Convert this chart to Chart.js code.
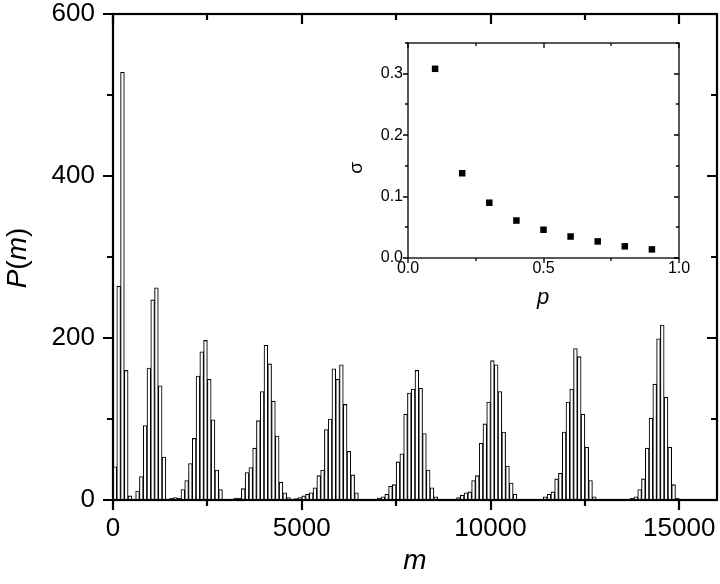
<!DOCTYPE html>
<html>
<head>
<meta charset="utf-8">
<script src="https://cdn.jsdelivr.net/npm/chart.js@4.4.1/dist/chart.umd.min.js"></script>
<style>
  html, body { margin: 0; padding: 0; background: #fff; }
  #wrap { position: relative; width: 720px; height: 584px; }
  #main { position: absolute; left: 0; top: 0; }
  #inset { position: absolute; left: 340px; top: 30px; }
</style>
</head>
<body>
<div id="wrap">
  <canvas id="main" width="720" height="584"></canvas>
  <canvas id="inset" width="360" height="290"></canvas>
</div>
<script>
// histogram: each peak is a run of 100-wide bins starting at peakStarts[i]
const binWidth = 100;
const peakStarts = [0, 600, 1500, 3200, 4800, 7000, 9100, 11400, 13700];
const peak1 = [41, 264, 528, 160, 5];
const peak2 = [11, 29, 92, 163, 247, 262, 141, 53];
const peak3 = [2, 3, 2, 13, 24, 45, 76, 153, 183, 197, 149, 99, 37, 13];
const peak4 = [2.5, 2.5, 14, 34, 40, 64, 98, 134, 191, 168, 122, 79, 22, 9, 3];
const peak5 = [1.6, 3, 5, 7, 9, 15, 30, 37, 87, 100, 162, 149, 167, 118, 60, 31, 9];
const peak6 = [2.5, 4, 7, 17, 19, 47, 57, 106, 132, 137, 160, 138, 82, 37, 15, 4];
const peak7 = [3, 6, 9, 10, 24, 30, 70, 94, 121, 172, 167, 134, 84, 42, 21, 7];
const peak8 = [4, 7, 10, 26, 33, 84, 121, 137, 187, 177, 106, 65, 24, 4];
const peak9 = [2, 4, 13, 26, 64, 101, 143, 199, 216, 127, 65, 19, 2.5];

const xTicks = [0, 5000, 10000, 15000];
const yTicks = [0, 200, 400, 600];

// inset
const pValues = [0.1, 0.2, 0.3, 0.4, 0.5, 0.6, 0.7, 0.8, 0.9];
const sigmaValues = [0.308, 0.138, 0.090, 0.061, 0.046, 0.035, 0.027, 0.019, 0.014];
const pTicks = [0, 0.5, 1.0];
const sigmaTicks = [0, 0.1, 0.2, 0.3];

const FONT = "'Liberation Sans', Arial, sans-serif";

const peaks = [peak1, peak2, peak3, peak4, peak5, peak6, peak7, peak8, peak9];
const histPoints = [];
peaks.forEach((counts, i) => {
  counts.forEach((c, k) => {
    histPoints.push({ x: peakStarts[i] + k * binWidth + binWidth / 2, y: c });
  });
});

// keep chart area where afterFit puts it (no extra room for edge labels)
function fixSize(prop, size) {
  return s => {
    s[prop] = size;
    s.paddingTop = 0; s.paddingBottom = 0; s.paddingLeft = 0; s.paddingRight = 0;
  };
}

// frame + minor/major ticks (out on left/bottom, in on top/right)
function framePlugin(id, opt) {
  return {
    id: id,
    afterDraw(chart) {
      const { ctx, chartArea: a, scales: { x, y } } = chart;
      ctx.save();
      ctx.strokeStyle = '#000';
      ctx.lineWidth = opt.lw;
      ctx.strokeRect(a.left, a.top, a.right - a.left, a.bottom - a.top);
      ctx.beginPath();
      for (let v = x.min; v <= x.max + 1e-9; v += opt.xMinor) {
        const major = Math.abs(v / opt.xMajor - Math.round(v / opt.xMajor)) < 1e-6;
        const len = major ? opt.major : opt.minor;
        const px = Math.round(x.getPixelForValue(v));
        ctx.moveTo(px, a.bottom); ctx.lineTo(px, a.bottom + len);
        ctx.moveTo(px, a.top); ctx.lineTo(px, a.top + len);
      }
      for (let v = y.min; v <= y.max + 1e-9; v += opt.yMinor) {
        const major = Math.abs(v / opt.yMajor - Math.round(v / opt.yMajor)) < 1e-6;
        const len = major ? opt.major : opt.minor;
        const py = Math.round(y.getPixelForValue(v));
        ctx.moveTo(a.left, py); ctx.lineTo(a.left - len, py);
        ctx.moveTo(a.right, py); ctx.lineTo(a.right - len, py);
      }
      ctx.stroke();
      ctx.restore();
    }
  };
}

// draws a run of text pieces with their own font styles, centred on (0,0)
function drawPieces(ctx, pieces) {
  let total = 0;
  pieces.forEach(p => { ctx.font = p.font; p.w = ctx.measureText(p.t).width; total += p.w; });
  let cx = -total / 2;
  pieces.forEach(p => { ctx.font = p.font; ctx.fillText(p.t, cx, 0); cx += p.w; });
}

const mainTitles = {
  id: 'mainTitles',
  afterDraw(chart) {
    const ctx = chart.ctx;
    ctx.save();
    ctx.fillStyle = '#000';
    ctx.textAlign = 'left';
    ctx.textBaseline = 'middle';
    ctx.translate(18, 258);
    ctx.rotate(-Math.PI / 2);
    const it = 'italic 28px ' + FONT, up = '28px ' + FONT;
    drawPieces(ctx, [{ t: 'P', font: it }, { t: '(', font: up }, { t: 'm', font: it }, { t: ')', font: up }]);
    ctx.restore();
    ctx.save();
    ctx.fillStyle = '#000';
    ctx.textAlign = 'center';
    ctx.textBaseline = 'alphabetic';
    ctx.font = 'italic 28px ' + FONT;
    ctx.fillText('m', 415, 569);
    ctx.restore();
  }
};

const insetTitles = {
  id: 'insetTitles',
  afterDraw(chart) {
    const ctx = chart.ctx;
    ctx.save();
    ctx.fillStyle = '#000';
    ctx.textAlign = 'center';
    ctx.textBaseline = 'middle';
    ctx.font = 'italic 22px ' + FONT;
    ctx.fillText('p', 203, 268);
    ctx.translate(17, 138);
    ctx.rotate(-Math.PI / 2);
    ctx.font = '19px ' + FONT;
    ctx.fillText('σ', 0, 0);
    ctx.restore();
  }
};

new Chart(document.getElementById('main'), {
  type: 'bar',
  data: {
    datasets: [{
      data: histPoints,
      backgroundColor: '#fff',
      borderColor: '#000',
      borderWidth: 1.1,
      borderSkipped: 'start',
      barPercentage: 1,
      categoryPercentage: 1
    }]
  },
  options: {
    responsive: false,
    animation: false,
    layout: { padding: { top: 14, right: 3, left: 0, bottom: 0 } },
    plugins: { legend: { display: false }, tooltip: { enabled: false } },
    scales: {
      x: {
        type: 'linear',
        offset: false,
        min: 0,
        max: 16000,
        grid: { display: false, offset: false, drawTicks: false },
        border: { display: false },
        afterBuildTicks: s => { s.ticks = xTicks.map(v => ({ value: v })); },
        afterFit: fixSize('height', 84),
        ticks: { color: '#000', padding: 16, maxRotation: 0, callback: v => String(v), font: { family: FONT, size: 26, lineHeight: 1 } }
      },
      y: {
        min: 0,
        max: 600,
        grid: { display: false, drawTicks: false },
        border: { display: false },
        afterBuildTicks: s => { s.ticks = yTicks.map(v => ({ value: v })); },
        afterFit: fixSize('width', 113),
        ticks: { color: '#000', padding: 18, callback: v => String(v), font: { family: FONT, size: 26, lineHeight: 1 } }
      }
    }
  },
  plugins: [framePlugin('mainFrame', { lw: 2.2, major: 10, minor: 6, xMinor: 2500, xMajor: 5000, yMinor: 100, yMajor: 200 }), mainTitles]
});

new Chart(document.getElementById('inset'), {
  type: 'scatter',
  data: {
    datasets: [{
      data: pValues.map((p, i) => ({ x: p, y: sigmaValues[i] })),
      pointStyle: 'rect',
      pointRadius: 4.6,
      backgroundColor: '#000',
      borderColor: '#000',
      borderWidth: 0
    }]
  },
  options: {
    responsive: false,
    animation: false,
    layout: { padding: { top: 13, right: 21, left: 0, bottom: 0 } },
    plugins: { legend: { display: false }, tooltip: { enabled: false } },
    scales: {
      x: {
        type: 'linear',
        min: 0,
        max: 1,
        grid: { display: false, drawTicks: false },
        border: { display: false },
        afterBuildTicks: s => { s.ticks = pTicks.map(v => ({ value: v })); },
        afterFit: fixSize('height', 62),
        ticks: { color: '#000', padding: 3, maxRotation: 0, callback: v => v.toFixed(1), font: { family: FONT, size: 16, lineHeight: 1 } }
      },
      y: {
        min: 0,
        max: 0.35,
        grid: { display: false, drawTicks: false },
        border: { display: false },
        afterBuildTicks: s => { s.ticks = sigmaTicks.map(v => ({ value: v })); },
        afterFit: fixSize('width', 68),
        ticks: { color: '#000', padding: 5, callback: v => v.toFixed(1), font: { family: FONT, size: 16, lineHeight: 1 } }
      }
    }
  },
  plugins: [framePlugin('insetFrame', { lw: 1.3, major: 5, minor: 3, xMinor: 0.25, xMajor: 0.5, yMinor: 0.05, yMajor: 0.1 }), insetTitles]
});
</script>
</body>
</html>
